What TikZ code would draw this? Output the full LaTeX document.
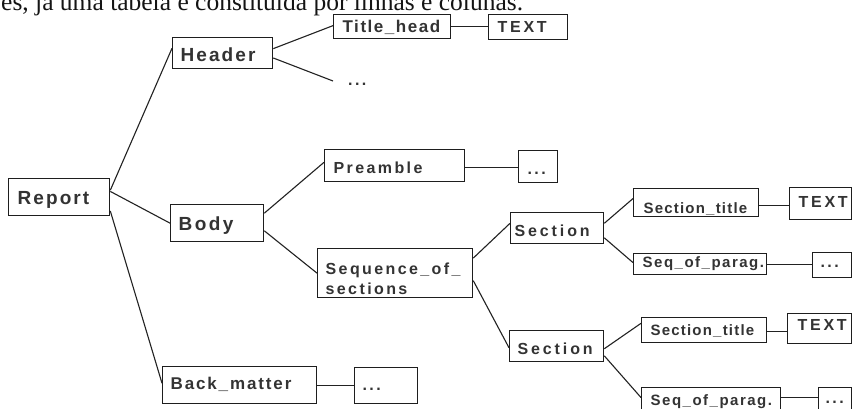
\documentclass[tikz,border=0pt]{standalone}
\usepackage{fontspec}
\setmainfont{Liberation Serif}
\newfontfamily\boxfont{Liberation Sans}
\usetikzlibrary{calc}

\definecolor{ink}{HTML}{333333}
\definecolor{boxline}{HTML}{1E1E1E}
\definecolor{wire}{HTML}{222222}

% bold, letter-spaced label font: size, tracking
\newcommand\lblf[2]{\boxfont\bfseries\addfontfeature{LetterSpace=#2}\fontsize{#1}{20}\selectfont\hyphenpenalty=10000\exhyphenpenalty=10000}

\tikzset{
  box/.style={draw=boxline, line width=1.3pt, rectangle, anchor=north west,
    inner ysep=0pt, align=left, text=ink, text depth=0pt},
  link/.style={draw=wire, line width=1.1pt},
}

\begin{document}
\begin{tikzpicture}[x=1pt, y=-1pt]
\useasboundingbox (0,0) rectangle (853,409);
\clip (0,0) rectangle (853,409);
\fill[white] (0,0) rectangle (853,409);

% running text line above the tree
\node[anchor=base west, inner sep=0pt, text=black!92,
  font=\fontsize{25.5}{26}\selectfont] (intro) at (1,10.5)
  {es, já uma tabela é constituída por linhas e colunas.};

% ---- boxes ----
\node[box, inner xsep=9pt, text width=83pt, minimum height=37pt, text height=13.7pt, font=\lblf{19}{11}] (report) at (8,178) {Report};
\node[box, inner xsep=8pt, text width=84pt, minimum height=31pt, text height=17.7pt, font=\lblf{19}{11}] (header) at (172,37) {Header};
\node[box, inner xsep=9pt, text width=99pt, minimum height=24pt, text height=12.2pt, font=\lblf{17}{9}] (titlehead) at (333,14) {Title\_head};
\node[box, inner xsep=9pt, text width=61pt, minimum height=25pt, text height=11.5pt, font=\lblf{16}{17}] (text0) at (488,14) {TEXT};
\node[anchor=base west, inner sep=0pt, text=ink, font=\lblf{16}{15}] (dots0) at (348,86) {...};
\coordinate (hdend) at (333,81);

\node[box, inner xsep=8pt, text width=77pt, minimum height=37pt, text height=13.7pt, font=\lblf{19}{13}] (body) at (170,204) {Body};
\node[box, inner xsep=9pt, text width=122pt, minimum height=32pt, text height=16.5pt, font=\lblf{16}{15}] (preamble) at (324,149) {Preamble};
\node[box, inner xsep=9pt, text width=21pt, minimum height=32pt, text height=16pt, font=\lblf{16}{15}] (dots1) at (518,150) {...};
\node[box, inner xsep=8pt, text width=139pt, minimum height=49pt, text height=11.5pt, text depth=9.5pt, font=\lblf{16}{15}] (seq) at (317,248) {Sequence\_of\_\\sections};

\node[box, inner xsep=4pt, text width=85pt, minimum height=31pt, text height=17.5pt, font=\lblf{16}{18}] (sec1) at (510,212) {Section};
\node[box, inner xsep=8pt, text width=78pt, minimum height=31pt, text height=16.5pt, font=\lblf{16}{18}] (sec2) at (509,330) {Section};

\node[box, inner xsep=10pt, text width=105pt, minimum height=28pt, text height=20.8pt, font=\lblf{15}{8}] (stitle1) at (633,188) {Section\_title};
\node[box, inner xsep=9pt, text width=44pt, minimum height=32pt, text height=11.5pt, text depth=3pt, font=\lblf{16}{17}] (text1) at (789,187) {TEXT};
\node[box, inner xsep=9pt, text width=115pt, minimum height=21pt, text height=10.8pt, text depth=4pt, font=\lblf{15}{10}] (spar1) at (633,253) {Seq\_of\_parag.};
\node[box, inner xsep=8pt, text width=23pt, minimum height=25pt, text height=5pt, font=\lblf{16}{15}] (dots2) at (812,252) {...};

\node[box, inner xsep=9pt, text width=107pt, minimum height=25pt, text height=10.8pt, font=\lblf{15}{8}] (stitle2) at (641,317) {Section\_title};
\node[box, inner xsep=10pt, text width=44pt, minimum height=30pt, text height=11.5pt, text depth=7pt, font=\lblf{16}{17}] (text2) at (787,313) {TEXT};
\node[box, inner xsep=9pt, text width=121pt, minimum height=28pt, text height=10.8pt, text depth=3pt, font=\lblf{15}{10}] (spar2) at (641,387) {Seq\_of\_parag.};
\node[box, inner xsep=7pt, text width=19pt, minimum height=28pt, text height=4pt, font=\lblf{16}{15}] (dots3) at (818,387) {...};

\node[box, inner xsep=8pt, text width=138pt, minimum height=37pt, text height=12.2pt, text depth=4pt, font=\lblf{17}{11}] (backm) at (162,366) {Back\_matter};
\node[box, inner xsep=8pt, text width=47pt, minimum height=36pt, text height=10pt, font=\lblf{16}{15}] (dots4) at (354,367) {...};

% ---- attachment points on box sides ----
\coordinate (preR)  at ($(preamble.north east)!.56!(preamble.south east)$);
\coordinate (st1R)  at ($(stitle1.north east)!.6!(stitle1.south east)$);
\coordinate (st2R)  at ($(stitle2.north east)!.56!(stitle2.south east)$);
\coordinate (sp2R)  at ($(spar2.north east)!.36!(spar2.south east)$);

% ---- connectors ----
\draw[link] ($(report.north east)!.32!(report.south east)$) -- ($(header.north west)!.35!(header.south west)$);
\draw[link] ($(report.north east)!.35!(report.south east)$) -- (body.west);
\draw[link] ($(report.north east)!.86!(report.south east)$) -- ($(backm.north west)!.45!(backm.south west)$);

\draw[link] ($(header.north east)!.36!(header.south east)$) -- ($(titlehead.north west)!.46!(titlehead.south west)$);
\draw[link] ($(header.north east)!.65!(header.south east)$) -- (hdend);
\draw[link] (titlehead.east) -- (titlehead.east -| text0.west);

\draw[link] ($(body.north east)!.24!(body.south east)$) -- ($(preamble.north west)!.4!(preamble.south west)$);
\draw[link] ($(body.north east)!.7!(body.south east)$) -- (seq.west);
\draw[link] (preR) -- (preR -| dots1.west);

\draw[link] ($(seq.north east)!.2!(seq.south east)$) -- ($(sec1.north west)!.35!(sec1.south west)$);
\draw[link] ($(seq.north east)!.65!(seq.south east)$) -- ($(sec2.north west)!.55!(sec2.south west)$);

\draw[link] ($(sec1.north east)!.35!(sec1.south east)$) -- ($(stitle1.north west)!.36!(stitle1.south west)$);
\draw[link] ($(sec1.north east)!.8!(sec1.south east)$) -- ($(spar1.north west)!.43!(spar1.south west)$);
\draw[link] (st1R) -- (st1R -| text1.west);
\draw[link] (spar1.east) -- (spar1.east -| dots2.west);

\draw[link] ($(sec2.north east)!.58!(sec2.south east)$) -- ($(stitle2.north west)!.24!(stitle2.south west)$);
\draw[link] ($(sec2.north east)!.8!(sec2.south east)$) -- ($(spar2.north west)!.36!(spar2.south west)$);
\draw[link] (st2R) -- (st2R -| text2.west);
\draw[link] (sp2R) -- (sp2R -| dots3.west);

\draw[link] (backm.east) -- (backm.east -| dots4.west);
\end{tikzpicture}
\end{document}
